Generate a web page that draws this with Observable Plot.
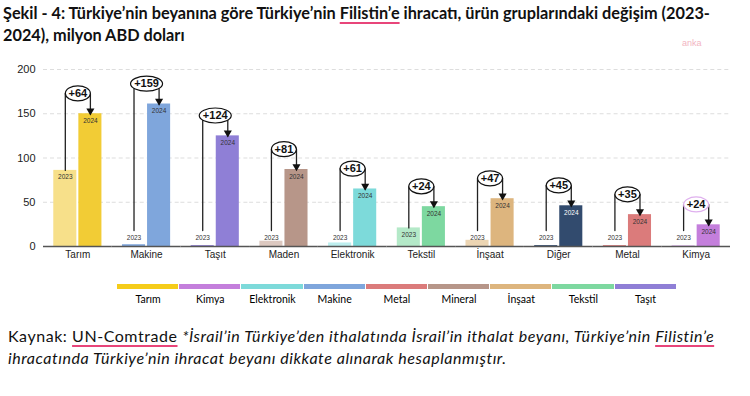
<!DOCTYPE html>
<html>
<head>
<meta charset="utf-8">
<script src="https://cdn.jsdelivr.net/npm/d3@7"></script>
<script src="https://cdn.jsdelivr.net/npm/@observablehq/plot@0.6"></script>
<style>
  html, body { margin:0; padding:0; background:#fff; width:750px; height:396px; overflow:hidden; }
  #root { position:relative; width:750px; height:396px; }
  #title { position:absolute; left:3px; top:2px; font-family:Lato, "Open Sans", sans-serif; font-weight:bold; font-size:16.3px; line-height:22px; color:#111; white-space:nowrap; }
  .ul { text-decoration:underline; text-decoration-color:#e8457a; text-decoration-thickness:2px; text-underline-offset:3px; }
  #anka { position:absolute; left:682px; top:38px; font-family:"Liberation Sans", Arial, sans-serif; font-size:9px; color:#f2b5c2; }
  #chart { position:absolute; left:0; top:52px; }
  #legend { position:absolute; left:117px; top:284px; display:flex; }
  .seg { width:62.2px; text-align:center; font-family:Lato, "Open Sans", sans-serif; font-size:10.5px; color:#000; }
  .seg .sw { height:5px; margin-right:1px; }
  .seg .lb { margin-top:4px; }
  #caption { position:absolute; left:8px; top:325px; font-family:Lato, "Open Sans", sans-serif; font-size:16px; letter-spacing:0.55px; line-height:22px; color:#111; white-space:nowrap; }
</style>
</head>
<body>
<div id="root">
  <div id="title">Şekil - 4: Türkiye’nin beyanına göre Türkiye’nin <span class="ul">Filistin’e</span> ihracatı, ürün gruplarındaki değişim (2023-<br>2024), milyon ABD doları</div>
  <div id="anka">anka</div>
  <div id="chart"></div>
  <div id="legend"></div>
  <div id="caption">Kaynak: <span class="ul">UN-Comtrade</span> <i>*İsrail’in Türkiye’den ithalatında İsrail’in ithalat beyanı, Türkiye’nin <span class="ul">Filistin’e</span><br>ihracatında Türkiye’nin ihracat beyanı dikkate alınarak hesaplanmıştır.</i></div>
</div>
<script>
const categories = ["Tarım","Makine","Taşıt","Maden","Elektronik","Tekstil","İnşaat","Diğer","Metal","Kimya"];
const years = ["2023","2024"];
const values2023 = [86, 2, 1, 6, 4, 21, 7, 1, 1, 0.5];
const values2024 = [150, 161, 125, 87, 65, 45, 54, 46, 36, 24.5];
const changes = [64, 159, 124, 81, 61, 24, 47, 45, 35, 24];
const colors2023 = ["#f7e08a","#7fa6dc","#8f7fd6","#dcc8c0","#bdeeee","#b4e9c8","#ecd5b3","#324b6e","#db7b7b","#c47fdc"];
const colors2024 = ["#f2cc35","#7fa6dc","#8f7fd6","#b79689","#7ddada","#7dd8a0","#ddb57e","#324b6e","#db7b7b","#c47fdc"];
const yTicks = [0, 50, 100, 150, 200];
const legendLabels = ["Tarım","Kimya","Elektronik","Makine","Metal","Mineral","İnşaat","Tekstil","Taşıt"];
const legendColors = ["#f5cc1a","#c47fdc","#7ddada","#7fa6dc","#db7b7b","#b79689","#ddb57e","#7dd8a0","#8f7fd6"];

// Build tables
const bars = [];
categories.forEach((c, i) => {
  bars.push({cat: c, year: "2023", value: values2023[i], fill: colors2023[i]});
  bars.push({cat: c, year: "2024", value: values2024[i], fill: colors2024[i]});
});
const annot = categories.map((c, i) => ({
  cat: c, v23: values2023[i], v24: values2024[i], change: changes[i],
  level: values2024[i] + 23, start: Math.max(values2023[i], 18)
}));
const paths = [];
annot.forEach(a => {
  paths.push({cat: a.cat, x: "2023", y: a.start});
  paths.push({cat: a.cat, x: "2023", y: a.level});
  paths.push({cat: a.cat, x: "2024", y: a.level});
  paths.push({cat: a.cat, x: "2024", y: a.v24});
});

// ellipse symbol: horizontal radius from the dot's size, fixed vertical radius
const ellipse = {
  draw(context, size) {
    const rx = Math.sqrt(size / Math.PI), ry = 7.5, k = 0.5523;
    context.moveTo(rx, 0);
    context.bezierCurveTo(rx, ry * k, rx * k, ry, 0, ry);
    context.bezierCurveTo(-rx * k, ry, -rx, ry * k, -rx, 0);
    context.bezierCurveTo(-rx, -ry * k, -rx * k, -ry, 0, -ry);
    context.bezierCurveTo(rx * k, -ry, rx, -ry * k, rx, 0);
    context.closePath();
  }
};

const chart = Plot.plot({
  width: 750,
  height: 214,
  marginLeft: 43,
  marginRight: 20,
  marginTop: 17,
  marginBottom: 20,
  style: {fontFamily: "'Liberation Sans', Arial, sans-serif", fontSize: "10px", color: "#222", background: "transparent"},
  fx: {domain: categories, padding: 0, round: false, label: null, axis: "bottom", tickSize: 0, tickPadding: 4},
  x: {domain: years, paddingInner: 0.08, paddingOuter: 0.41, round: false, axis: null},
  y: {domain: [0, 200], ticks: yTicks, tickSize: 0, tickPadding: 8, label: null},
  r: {type: "identity"},
  marks: [
    Plot.ruleY(yTicks.filter(t => t > 0), {stroke: "#dddddd", strokeDasharray: "4,3", strokeWidth: 1}),
    Plot.barY(bars, {fx: "cat", x: "year", y: "value", fill: "fill"}),
    Plot.ruleY([0], {stroke: "#555", strokeWidth: 1.5}),
    Plot.axisY({ticks: yTicks, tickSize: 0, tickPadding: 8, fontSize: 11, label: null}),
    Plot.text(bars, {fx: "cat", x: "year", y: d => d.year === "2023" ? Math.max(d.value, 18) : d.value,
      text: "year", dy: 7, fontSize: 6.5, fill: d => d.cat === "Diğer" && d.year === "2024" ? "#fff" : "#333"}),
    Plot.line(paths, {fx: "cat", x: "x", y: "y", z: "cat", stroke: "#222", strokeWidth: 1.3}),
    Plot.dot(annot, {fx: "cat", x: () => "2024", y: "v24", symbol: "triangle", rotate: 180, r: 3, fill: "#111", stroke: "none", dy: -3}),
    Plot.dot(annot, {fx: "cat", y: "level", symbol: ellipse, r: d => String(d.change).length > 2 ? 16 : 12.5, fill: "#fff",
      stroke: d => d.cat === "Kimya" ? "#dfb0ee" : "#111", strokeWidth: 1.2}),
    Plot.text(annot, {fx: "cat", y: "level", text: d => "+" + d.change, fontWeight: "bold", fontSize: 11, fill: "#111"})
  ]
});
document.getElementById("chart").appendChild(chart);

const legend = document.getElementById("legend");
legendLabels.forEach((l, i) => {
  const seg = document.createElement("div");
  seg.className = "seg";
  seg.innerHTML = `<div class="sw" style="background:${legendColors[i]}"></div><div class="lb">${l}</div>`;
  legend.appendChild(seg);
});
</script>
</body>
</html>
